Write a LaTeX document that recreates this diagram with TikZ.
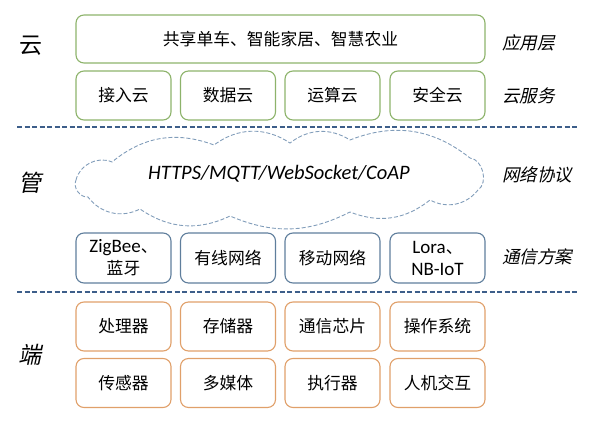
\documentclass[tikz,border=0pt]{standalone}
\usepackage{fontspec}
\setmainfont{Carlito}
\newfontfamily\cjk{Noto Sans CJK SC}
\newfontfamily\cjkit{Noto Sans CJK SC}[FakeSlant=0.22]
\usepackage{xcolor}
\definecolor{appgreen}{HTML}{8DB36B}
\definecolor{netblue}{HTML}{5F7E9C}
\definecolor{devorange}{HTML}{E0A06A}
\definecolor{sepblue}{HTML}{3D5E8A}
\definecolor{cloudblue}{HTML}{819DBA}

\begin{document}
\begin{tikzpicture}[x=1pt,y=-1pt,
  box/.style={draw, rounded corners=8pt, line width=1.1pt, minimum width=95pt,
    minimum height=49pt, inner sep=0pt, align=center,
    font=\cjk\fontsize{16.8}{22}\selectfont, text=black},
  appbox/.style={box, draw=appgreen},
  netbox/.style={box, draw=netblue},
  devbox/.style={box, draw=devorange},
  sepline/.style={draw=sepblue, line width=1.8pt, dash pattern=on 5pt off 2.5pt},
  cloudline/.style={draw=cloudblue, line width=0.9pt, dash pattern=on 4pt off 2pt},
  layerlabel/.style={font=\cjk\fontsize{23}{24}\selectfont},
  sidelabel/.style={anchor=west, inner sep=0pt, font=\cjkit\fontsize{17.5}{20}\selectfont}]
\useasboundingbox (0,0) rectangle (589,423);
\def\lat{\rmfamily\fontsize{19}{22}\selectfont}
% cloud layer
\node[appbox, minimum width=409pt, minimum height=48pt] (app) at (280.5,39) {共享单车、智能家居、智慧农业};
\foreach \x/\t [count=\i] in {123.5/接入云, 228/数据云, 332.5/运算云, 437.5/安全云}
  \node[appbox] (svc\i) at (\x,95.5) {\t};
\node[layerlabel] (yun) at (31,46) {云};
\node[sidelabel] (applabel) at (502,43) {应用层};
\node[sidelabel] (svclabel) at (502,96) {云服务};
\coordinate (sepAl) at (17,127);
\coordinate (sepAr) at (578,127);
\draw[sepline] (sepAl) -- (sepAr);
% pipe layer
\foreach \n/\p in {1/{76,180}, 2/{112,162}, 3/{214,145}, 4/{290,143}, 5/{350,140}, 6/{470,158},
    7/{478,190}, 8/{430,200}, 9/{350,212}, 10/{230,216}, 11/{140,209}, 12/{88,197}}
  \coordinate (puff\n) at (\p);
\draw[cloudline] (puff1) to[bend left=50] (puff2) to[bend left=30] (puff3)
  to[bend left=35] (puff4) to[bend left=35] (puff5) to[bend left=30] (puff6)
  to[bend left=70] (puff7) to[bend left=40] (puff8) to[bend left=30] (puff9)
  to[bend left=25] (puff10) to[bend left=30] (puff11) to[bend left=40] (puff12)
  to[bend left=60] (puff1);
\node[font=\itshape\fontsize{20.5}{24}\selectfont] (prototext) at (279,174) {HTTPS/MQTT/WebSocket/CoAP};
\foreach \x/\t [count=\i] in {123.5/{{\lat ZigBee}、\\蓝牙}, 228/有线网络, 332.5/移动网络, 437.5/{{\lat Lora}、\\{\lat NB-IoT}}}
  \node[netbox, minimum height=50pt] (net\i) at (\x,258) {\t};
\node[layerlabel, font=\cjkit\fontsize{23}{24}\selectfont] (guan) at (30,183) {管};
\node[sidelabel] (protolabel) at (502,175) {网络协议};
\node[sidelabel] (netlabel) at (502,257) {通信方案};
\coordinate (sepBl) at (17,292);
\coordinate (sepBr) at (578,292);
\draw[sepline] (sepBl) -- (sepBr);
% device layer
\foreach \x/\t [count=\i] in {123.5/处理器, 228/存储器, 332.5/通信芯片, 437.5/操作系统}
  \node[devbox] (dev\i) at (\x,326.5) {\t};
\foreach \x/\t [count=\i] in {123.5/传感器, 228/多媒体, 332.5/执行器, 437.5/人机交互}
  \node[devbox] (io\i) at (\x,383) {\t};
\node[layerlabel, font=\cjkit\fontsize{23}{24}\selectfont] (duan) at (30,355) {端};
\end{tikzpicture}
\end{document}
